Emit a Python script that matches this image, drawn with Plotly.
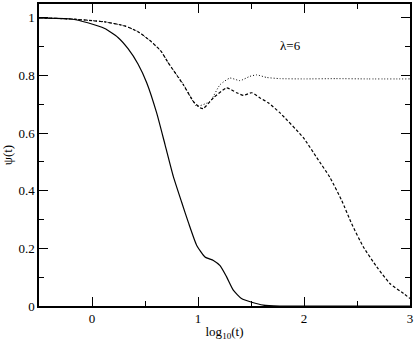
import plotly.graph_objects as go

# psi(t) curves, x = log10(t)
x_solid = [-0.5, -0.2, -0.04, 0.12, 0.245, 0.34, 0.434, 0.516, 0.61, 0.689, 0.767, 0.846, 0.909,
           0.988, 1.066, 1.145, 1.208, 1.27, 1.333, 1.41, 1.507, 1.616, 1.77, 3.0]
y_solid = [1.0, 0.996, 0.983, 0.963, 0.932, 0.893, 0.84, 0.775, 0.67, 0.56, 0.45, 0.36, 0.29,
           0.21, 0.17, 0.158, 0.14, 0.101, 0.055, 0.026, 0.013, 0.003, 0.0, 0.0]

x_dash = [-0.5, -0.2, 0.12, 0.308, 0.434, 0.56, 0.654, 0.717, 0.861, 0.956, 1.019, 1.05, 1.145,
          1.27, 1.365, 1.43, 1.507, 1.585, 1.663, 1.774, 1.994, 2.12, 2.245, 2.356, 2.45, 2.56,
          2.686, 2.81, 2.937, 3.0]
y_dash = [1.0, 0.996, 0.986, 0.972, 0.952, 0.917, 0.883, 0.845, 0.768, 0.71, 0.688, 0.685, 0.722,
          0.757, 0.74, 0.731, 0.74, 0.722, 0.705, 0.67, 0.584, 0.515, 0.446, 0.366, 0.285, 0.205,
          0.136, 0.078, 0.044, 0.026]

x_dot = [-0.5, -0.2, 0.12, 0.308, 0.434, 0.56, 0.654, 0.717, 0.861, 0.95, 0.988, 1.113, 1.208,
         1.302, 1.396, 1.49, 1.554, 1.648, 1.774, 2.0, 2.3, 2.6, 3.0]
y_dot = [1.0, 0.996, 0.986, 0.972, 0.952, 0.917, 0.883, 0.845, 0.77, 0.712, 0.693, 0.71, 0.768,
         0.791, 0.782, 0.797, 0.802, 0.793, 0.789, 0.788, 0.789, 0.788, 0.788]

serif = "Liberation Serif"

fig = go.Figure()
fig.add_trace(go.Scatter(x=x_solid, y=y_solid, mode="lines",
                         line=dict(color="black", width=1.2, shape="spline", smoothing=0.5)))
fig.add_trace(go.Scatter(x=x_dash, y=y_dash, mode="lines",
                         line=dict(color="black", width=1.2, dash="3px,2px", shape="spline", smoothing=0.5)))
fig.add_trace(go.Scatter(x=x_dot, y=y_dot, mode="lines",
                         line=dict(color="black", width=1, dash="1px,2px", shape="spline", smoothing=0.5)))

fig.add_annotation(x=1.87, y=0.905, text="λ=6", showarrow=False,
                   font=dict(family=serif, size=13, color="black"))

axis_common = dict(showgrid=False, zeroline=False, showline=True, linecolor="black", linewidth=1.5,
                   mirror="ticks", ticks="inside", ticklen=9, tickcolor="black", tickwidth=1,
                   tickfont=dict(family=serif, size=13, color="black"))

fig.update_xaxes(range=[-0.5, 3], dtick=1, tick0=0,
                 minor=dict(ticks="inside", ticklen=5, dtick=0.5, tick0=0, tickcolor="black"),
                 title=dict(text="log<sub>10</sub>(t)", font=dict(family=serif, size=13, color="black"),
                            standoff=2),
                 **axis_common)
fig.update_yaxes(range=[0, 1.048], dtick=0.2, tick0=0,
                 minor=dict(ticks="inside", ticklen=5, dtick=0.1, tick0=0, tickcolor="black"),
                 title=dict(text="ψ(t)", font=dict(family=serif, size=13, color="black"), standoff=6),
                 **axis_common)

fig.update_layout(width=415, height=341, margin=dict(l=39, r=4, t=2, b=35),
                  font=dict(family=serif, color="black"),
                  plot_bgcolor="white", paper_bgcolor="white", showlegend=False)

fig.write_html("out.html", config={"displayModeBar": False},
               post_script="document.body.style.margin='0';")
